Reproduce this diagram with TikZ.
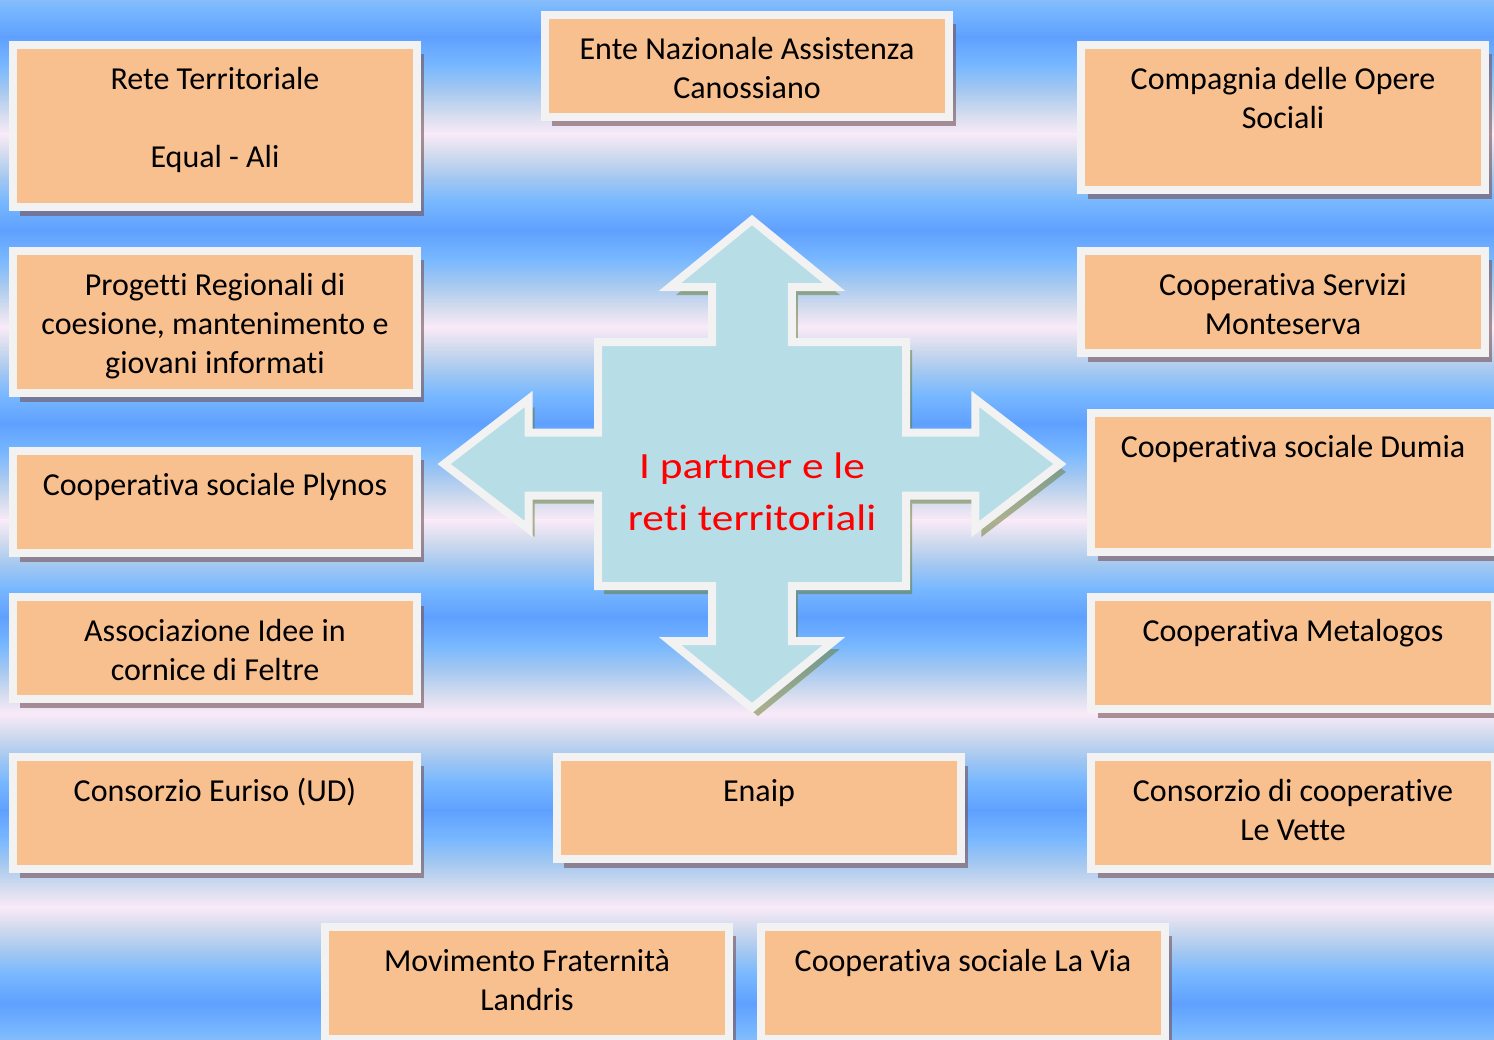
\documentclass[tikz,border=0pt]{standalone}
\usepackage{fontspec}
\setmainfont{Carlito}[Ligatures=NoCommon]
\newfontfamily\redfont[FakeStretch=1.17, Ligatures=NoCommon]{Carlito}
\usetikzlibrary{shadows}

\definecolor{bgA}{RGB}{95,160,255}
\definecolor{bgB}{RGB}{120,184,255}
\definecolor{bgC}{RGB}{165,200,240}
\definecolor{bgD}{RGB}{212,220,238}
\definecolor{bgE}{RGB}{250,234,248}
\definecolor{boxfill}{RGB}{248,191,143}
\definecolor{boxline}{RGB}{242,242,242}
\definecolor{boxshadow}{RGB}{118,81,87}
\definecolor{arrowfill}{RGB}{183,221,231}
\definecolor{arrowshadow}{RGB}{100,120,40}

\begin{document}
\begin{tikzpicture}[x=1pt, y=-1pt,
		partner/.style={draw=boxline, fill=boxfill, line width=8pt, inner sep=0pt, outer sep=0pt,
			minimum width=404pt, anchor=north west,
			drop shadow={shadow xshift=7pt, shadow yshift=-9pt, fill=boxshadow, opacity=.6}},
		partnertext/.style={anchor=north, align=center, inner sep=0pt,
			font=\fontsize{32}{39}\selectfont},
		centertext/.style={align=center, inner sep=0pt, text=red,
			font=\redfont\fontsize{37}{52}\selectfont}]
		\useasboundingbox (0,0) rectangle (1494,1039);
		\begin{scope}
		\clip (0,0) rectangle (1494,1039);
		
		% striped background
		\foreach \k in {-1,...,5} {
			\pgfmathsetmacro{\ya}{37+193.3*\k}
			\pgfmathsetmacro{\yc}{\ya+193.3}
			\foreach \fa/\fb/\ca/\cb in {0/.3/bgA/bgB, .3/.55/bgB/bgC, .55/.8/bgC/bgD, .8/1/bgD/bgE} {
				\fill[top color=\ca, bottom color=\cb] (0,{\ya+96.65*\fa-.3}) rectangle (1494,{\ya+96.65*\fb+.3});
				\fill[top color=\cb, bottom color=\ca] (0,{\yc-96.65*\fb-.3}) rectangle (1494,{\yc-96.65*\fa+.3});
			}
		}
		
		% four way arrow
		\draw [line width=8pt, draw=boxline, fill=arrowfill, line join=miter,
			drop shadow={shadow xshift=6pt, shadow yshift=-8pt, fill=arrowshadow, opacity=.5}]
			(752,220) -- (834,287) -- (791.8,287) -- (791.8,342) -- (906,342) -- (906,432.5)
			-- (975.4,432.5) -- (975.4,399) -- (1059.9,464) -- (975.4,529) -- (975.4,495.5)
			-- (906,495.5) -- (906,586) -- (791.8,586) -- (791.8,641) -- (834,641) -- (752,708)
			-- (670,641) -- (712.2,641) -- (712.2,586) -- (598,586) -- (598,495.5)
			-- (528.6,495.5) -- (528.6,529) -- (444.1,464) -- (528.6,399) -- (528.6,432.5)
			-- (598,432.5) -- (598,342) -- (712.2,342) -- (712.2,287) -- (670,287) -- cycle;
		\node[centertext] (centro) at (752,493.6) {\strut I partner e le\\reti territoriali\strut};
		
		% left column
		\node[partner, minimum height=162pt] (rete) at (13,45) {};
		\node[partner, minimum height=142pt] (progetti) at (13,251) {};
		\node[partner, minimum height=102pt] (plynos) at (13,451) {};
		\node[partner, minimum height=102pt] (idee) at (13,597) {};
		\node[partner, minimum height=112pt] (euriso) at (13,757) {};
		
		% middle
		\node[partner, minimum height=102pt] (ente) at (545,15) {};
		\node[partner, minimum height=102pt] (enaip) at (557,757) {};
		\node[partner, minimum height=112pt] (landris) at (325,927) {};
		\node[partner, minimum height=112pt] (lavia) at (761,927) {};
		
		% right column
		\node[partner, minimum height=145pt] (cdo) at (1081,45) {};
		\node[partner, minimum height=102pt] (servizi) at (1081,251) {};
		\node[partner, minimum height=139pt] (dumia) at (1091,413) {};
		\node[partner, minimum height=112pt] (metalogos) at (1091,597) {};
		\node[partner, minimum height=112pt] (vette) at (1091,757) {};
		
		% texts
		\node[partnertext] (rete-t) at ([yshift=-16.7pt]rete.north) {\strut Rete Territoriale\\\strut\\Equal - Ali};
		\node[partnertext] (progetti-t) at ([yshift=-16.7pt]progetti.north) {\strut Progetti Regionali di\\coesione, mantenimento e\\giovani informati};
		\node[partnertext] (plynos-t) at ([yshift=-16.7pt]plynos.north) {\strut Cooperativa sociale Plynos};
		\node[partnertext] (idee-t) at ([yshift=-16.7pt]idee.north) {\strut Associazione Idee in\\cornice di Feltre};
		\node[partnertext] (euriso-t) at ([yshift=-16.7pt]euriso.north) {\strut Consorzio Euriso (UD)};
		\node[partnertext] (ente-t) at ([yshift=-16.7pt]ente.north) {\strut Ente Nazionale Assistenza\\Canossiano};
		\node[partnertext] (enaip-t) at ([yshift=-16.7pt]enaip.north) {\strut Enaip};
		\node[partnertext] (landris-t) at ([yshift=-16.7pt]landris.north) {\strut Movimento Fraternità\\Landris};
		\node[partnertext] (lavia-t) at ([yshift=-16.7pt]lavia.north) {\strut Cooperativa sociale La Via};
		\node[partnertext] (cdo-t) at ([yshift=-16.7pt]cdo.north) {\strut Compagnia delle Opere\\Sociali};
		\node[partnertext] (servizi-t) at ([yshift=-16.7pt]servizi.north) {\strut Cooperativa Servizi\\Monteserva};
		\node[partnertext] (dumia-t) at ([yshift=-16.7pt]dumia.north) {\strut Cooperativa sociale Dumia};
		\node[partnertext] (metalogos-t) at ([yshift=-16.7pt]metalogos.north) {\strut Cooperativa Metalogos};
		\node[partnertext] (vette-t) at ([yshift=-16.7pt]vette.north) {\strut Consorzio di cooperative\\Le Vette};
		\end{scope}
		
		\end{tikzpicture}
\end{document}
